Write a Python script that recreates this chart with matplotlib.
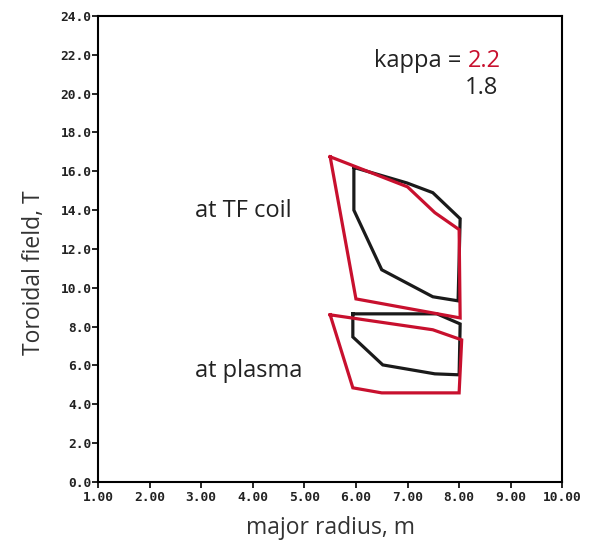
import matplotlib
matplotlib.use("Agg")
import matplotlib.pyplot as plt
from matplotlib.ticker import FormatStrFormatter

# kappa = 2.2 (red)
red_coil_r = [5.50, 6.00, 8.02, 8.00, 7.53, 7.00, 5.50]
red_coil_b = [16.75, 9.43, 8.45, 13.00, 13.87, 15.20, 16.75]
red_plasma_r = [5.50, 7.49, 8.05, 8.00, 6.50, 5.94, 5.50]
red_plasma_b = [8.61, 7.84, 7.32, 4.59, 4.59, 4.85, 8.61]

# kappa = 1.8 (black)
blk_coil_r = [5.96, 5.96, 6.50, 7.49, 7.98, 8.02, 7.49, 6.99, 5.96]
blk_coil_b = [16.20, 14.00, 10.93, 9.54, 9.33, 13.56, 14.90, 15.40, 16.20]
blk_plasma_r = [5.94, 7.57, 8.02, 8.00, 7.53, 6.52, 5.94, 5.94]
blk_plasma_b = [8.66, 8.66, 8.14, 5.52, 5.57, 6.03, 7.47, 8.66]

xticks = [1, 2, 3, 4, 5, 6, 7, 8, 9, 10]
yticks = [0, 2, 4, 6, 8, 10, 12, 14, 16, 18, 20, 22, 24]

RED = "#c8102e"
BLK = "#1a1a1a"

fig = plt.figure(figsize=(6.03, 5.42), dpi=100)
ax = fig.add_axes([0.1625, 0.1107, 0.7700, 0.8598])

lw = 2.3
ax.plot(blk_coil_r, blk_coil_b, color=BLK, lw=lw, solid_joinstyle="miter")
ax.plot(blk_plasma_r, blk_plasma_b, color=BLK, lw=lw, solid_joinstyle="miter")
ax.plot(red_coil_r, red_coil_b, color=RED, lw=lw, solid_joinstyle="miter")
ax.plot(red_plasma_r, red_plasma_b, color=RED, lw=lw, solid_joinstyle="miter")

ax.set_xlim(1, 10)
ax.set_ylim(0, 24)
ax.set_xticks(xticks)
ax.set_yticks(yticks)
ax.xaxis.set_major_formatter(FormatStrFormatter("%.2f"))
ax.yaxis.set_major_formatter(FormatStrFormatter("%.1f"))
for lab in ax.get_xticklabels() + ax.get_yticklabels():
    lab.set_fontfamily("DejaVu Sans Mono")
    lab.set_fontweight("bold")
    lab.set_fontsize(9.3)
    lab.set_color("#222222")
ax.tick_params(axis="both", direction="out", length=4, width=1.2, pad=0.5)
ax.tick_params(axis="x", pad=2.5)
for s in ax.spines.values():
    s.set_linewidth(1.5)

lab_font = dict(family="Open Sans", fontsize=16.5, color="#333333")
ax.set_xlabel("major radius, m", **lab_font)
ax.set_ylabel("Toroidal field, T", **lab_font)
ax.xaxis.set_label_coords(0.5, -0.074)
ax.yaxis.set_label_coords(-0.113, 0.45)

txt = dict(family="Open Sans", fontsize=17, color="#222222")
ax.text(2.88, 13.97, "at TF coil", ha="left", va="center", **txt)
ax.text(2.88, 5.72, "at plasma", ha="left", va="center", **txt)
ax.text(8.17, 21.7, "kappa = ", ha="right", va="center", **txt)
ax.text(8.17, 21.7, "2.2", ha="left", va="center", family="Open Sans", fontsize=17, color=RED)
ax.text(8.75, 20.3, "1.8", ha="right", va="center", **txt)

fig.savefig("out.png", dpi=100)
